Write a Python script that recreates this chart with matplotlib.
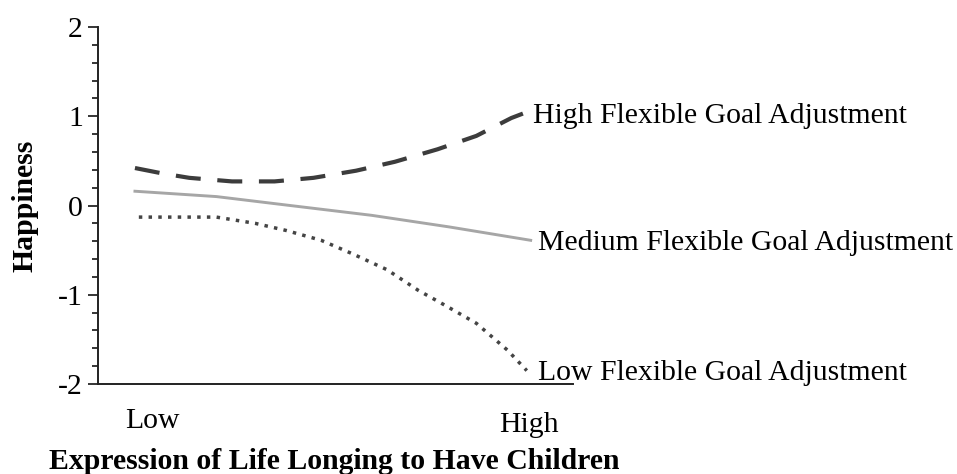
import numpy as np
import matplotlib.pyplot as plt

# values (x: 0 = Low, 1 = High longing)
x_high = [0.00, 0.07, 0.14, 0.25, 0.36, 0.46, 0.57, 0.67, 0.78, 0.88, 0.97, 1.00]
y_high = [0.42, 0.36, 0.31, 0.27, 0.27, 0.31, 0.39, 0.49, 0.63, 0.78, 0.98, 1.03]

x_med = [0.00, 0.21, 0.40, 0.61, 0.81, 1.02]
y_med = [0.16, 0.10, 0.00, -0.11, -0.24, -0.39]

x_low = [0.01, 0.21, 0.31, 0.39, 0.48, 0.56, 0.65, 0.73, 0.80, 0.88, 0.96, 1.01]
y_low = [-0.13, -0.13, -0.20, -0.28, -0.39, -0.54, -0.72, -0.95, -1.12, -1.32, -1.62, -1.85]

series_labels = ['High Flexible Goal Adjustment',
                 'Medium Flexible Goal Adjustment',
                 'Low Flexible Goal Adjustment']
x_ticklabels = ['Low', 'High']
x_ticks = [0.046, 1.015]

plt.rcParams['font.family'] = ['Liberation Serif', 'DejaVu Serif']
fs = 21.4

fig = plt.figure(figsize=(9.57, 4.74), dpi=100)
ax = fig.add_axes([0.1021, 0.1899, 0.4966, 0.7531])

ax.plot(x_high, y_high, color='#3c3c3c', lw=3.0, dashes=(6.0, 4.0), solid_capstyle='butt')
ax.plot(x_med, y_med, color='#a6a6a6', lw=2.1)
ax.plot(x_low, y_low, color='#444444', lw=2.5, dashes=(1, 1.8))

ends = [(x_high[-1], y_high[-1], 7), (x_med[-1], y_med[-1], 5), (x_low[-1], y_low[-1], 8)]
for (xe, ye, dx), lab in zip(ends, series_labels):
    ax.annotate(lab, xy=(xe, ye), xytext=(dx, -7), textcoords='offset points',
                ha='left', va='baseline', fontsize=fs, annotation_clip=False)

ax.set_xlim(-0.096, 1.129)
ax.set_ylim(-2, 2)
ax.set_yticks([-2, -1, 0, 1, 2])
ax.set_yticklabels(['-2', '-1', '0', '1', '2'], fontsize=fs)
ax.set_yticks(np.arange(-2, 2.01, 0.2), minor=True)
ax.tick_params(axis='y', which='major', length=7.2, width=1.1, pad=3.5, direction='out')
ax.tick_params(axis='y', which='minor', length=4.3, width=1.1, direction='out')
ax.set_xticks([])

for name in ['top', 'right']:
    ax.spines[name].set_visible(False)
for name in ['left', 'bottom']:
    ax.spines[name].set_linewidth(1.4)
    ax.spines[name].set_color('#222222')

# category labels under the x axis
ax.annotate(x_ticklabels[0], xy=(x_ticks[0], 0), xycoords=('data', 'axes fraction'),
            xytext=(0, -31.7), textcoords='offset points', ha='center', va='baseline', fontsize=fs)
ax.annotate(x_ticklabels[1], xy=(x_ticks[1], 0), xycoords=('data', 'axes fraction'),
            xytext=(0, -34.6), textcoords='offset points', ha='center', va='baseline', fontsize=fs)

# the reference crops this title's descenders at the bottom edge
fig.text(334 / 957, 1 - 469 / 474, 'Expression of Life Longing to Have Children',
         ha='center', va='baseline', fontsize=fs, fontweight='bold')
fig.text(25 / 957, 1 - 206 / 474, 'Happiness', rotation=90,
         ha='center', va='center', fontsize=fs, fontweight='bold')

fig.savefig('out.png', dpi=100)
